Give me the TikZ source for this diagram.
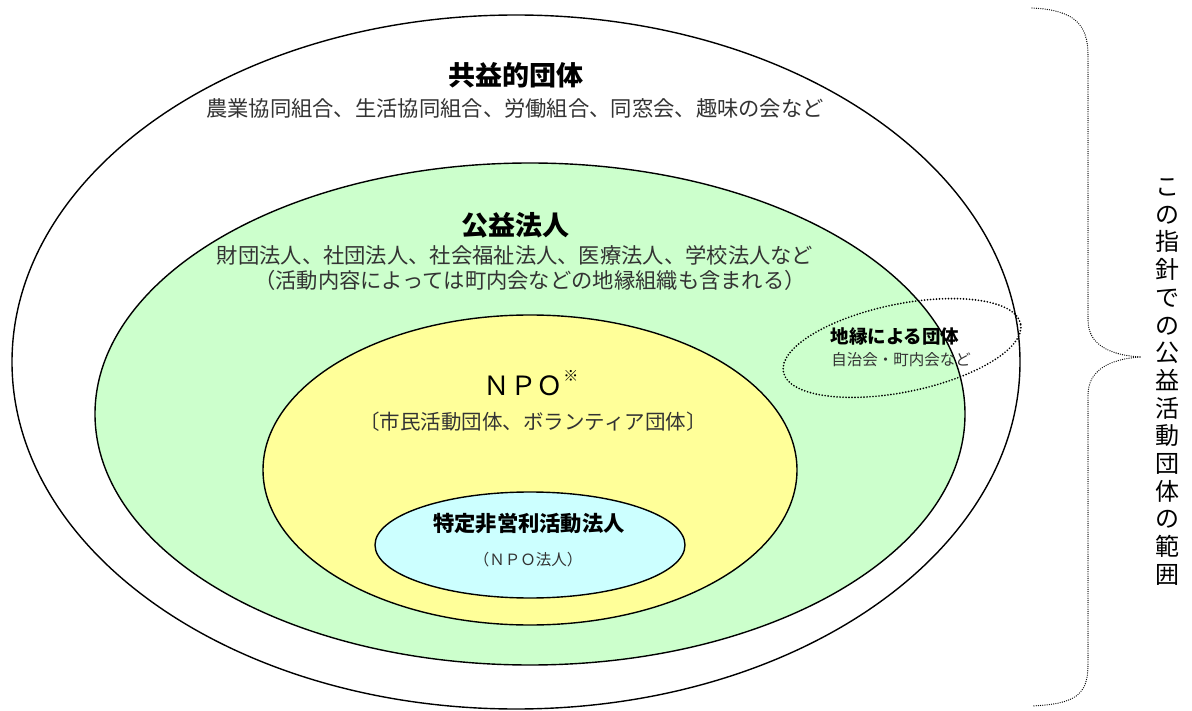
\documentclass[tikz,border=0pt]{standalone}
\usepackage{fontspec}
\setmainfont{Noto Sans CJK JP}
\definecolor{grn}{HTML}{CCFFCC}
\definecolor{ylw}{HTML}{FFFF99}
\definecolor{cyn}{HTML}{CCFFFF}
\definecolor{txtgray}{HTML}{333333}
\tikzset{
  ring/.style={draw=black, line width=1.4pt},
  dotline/.style={draw=black, line cap=round, dash pattern=on 0pt off 3pt},
  title/.style={font=\fontsize{27}{30}\selectfont\bfseries, text=black, inner sep=0pt},
  body/.style={font=\fontsize{21.3}{25}\selectfont, text=txtgray, inner sep=0pt},
}
\begin{document}
\begin{tikzpicture}[x=1pt,y=-1pt]
\useasboundingbox (0,0) rectangle (1192,711);
% ellipses
\draw[ring, fill=white] (516,362) ellipse [x radius=504pt, y radius=347pt];
\draw[ring, fill=grn] (530,414) ellipse [x radius=435pt, y radius=251pt];
\draw[ring, fill=ylw] (530,470) ellipse [x radius=267pt, y radius=155pt];
\draw[ring, fill=cyn] (530,545) ellipse [x radius=155pt, y radius=53pt];
\draw[dotline, line width=1.9pt, shift={(902pt,-348pt)}, rotate=11.5] (0,0) ellipse [x radius=121pt, y radius=44pt];
% texts
\node[title] (t1) at (516,75) {共益的団体};
\node[body] (b1) at (515,108) {農業協同組合、生活協同組合、労働組合、同窓会、趣味の会など};
\node[title] (t2) at (515,225) {公益法人};
\node[body] (b2) at (515,255) {財団法人、社団法人、社会福祉法人、医療法人、学校法人など};
\node[body] (b3) at (530,280) {（活動内容によっては町内会などの地縁組織も含まれる）};
\node[font=\fontsize{26.5}{30}\selectfont, inner sep=0pt] (npo) at (531,383) {ＮＰＯ\raisebox{0.5em}{\fontsize{15}{15}\selectfont ※}};
\node[body, font=\fontsize{20.5}{24}\selectfont] (b4) at (533,422) {〔市民活動団体、ボランティア団体〕};
\node[font=\fontsize{18.5}{22}\selectfont\bfseries, inner sep=0pt] (t4) at (895,336) {地縁による団体};
\node[body, font=\fontsize{15.5}{18}\selectfont] (b5) at (901,360) {自治会・町内会など};
\node[font=\fontsize{21.3}{25}\selectfont\bfseries, inner sep=0pt] (t5) at (529,523) {特定非営利活動法人};
\node[body, font=\fontsize{15.5}{18}\selectfont] (b6) at (528,560) {（ＮＰＯ法人）};
% brace
\draw[dotline, line width=1.3pt, dash pattern=on 0pt off 2.2pt] (1032,8) .. controls (1075,10) and (1088,25) .. (1088,55) -- (1088,320) .. controls (1088,345) and (1110,355) .. (1140,357);
\draw[dotline, line width=1.3pt, dash pattern=on 0pt off 2.2pt] (1140,357) .. controls (1110,359) and (1088,370) .. (1088,395) -- (1088,665) .. controls (1088,695) and (1075,704) .. (1032,706);
\node[font=\fontsize{24}{27.7}\selectfont, align=center, inner sep=0pt] (vt) at (1167,382) {こ\\の\\指\\針\\で\\の\\公\\益\\活\\動\\団\\体\\の\\範\\囲};
\end{tikzpicture}
\end{document}
